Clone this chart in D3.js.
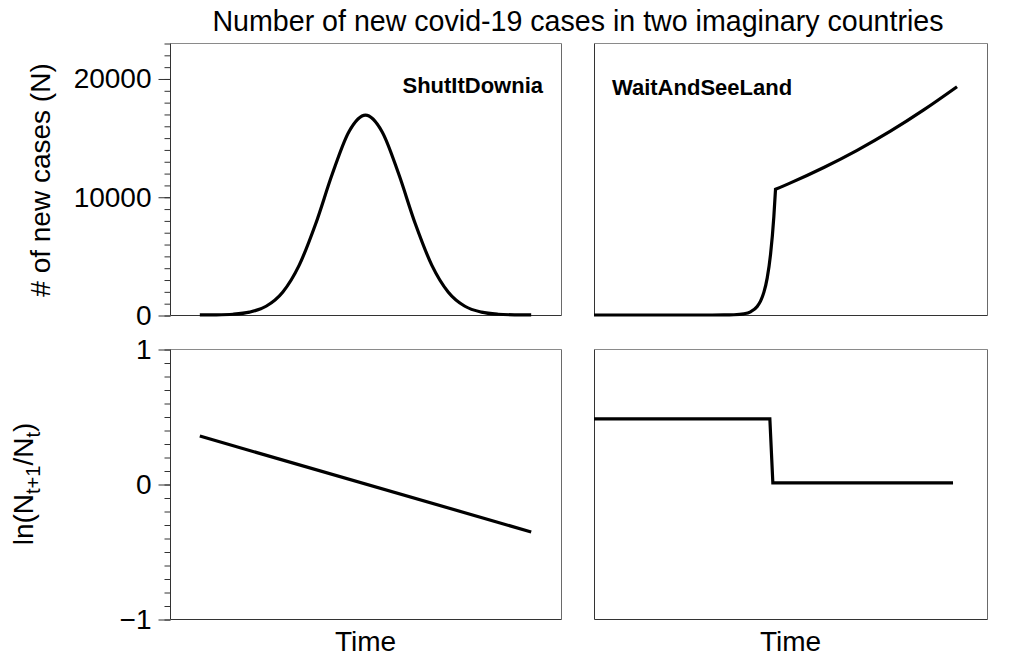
<!DOCTYPE html>
<html><head><meta charset="utf-8">
<script src="https://cdn.jsdelivr.net/npm/d3@7"></script>
<style>body{margin:0;background:#fff} svg{display:block} text{font-family:"Liberation Sans",Arial,Helvetica,sans-serif;fill:#000}</style>
</head><body><svg id="c" width="1024" height="669"></svg>
<script>
// ---- data ----
const chartTitle = "Number of new covid-19 cases in two imaginary countries";
const countries = ["ShutItDownia", "WaitAndSeeLand"];
const shutTime  = [0,5,10,15,20,25,30,35,40,45,50,55,60,65,70,75,80,85,90,95,100];
const shutCases = [3,15,65,240,740,1930,4220,7740,11940,15500,16900,15500,11940,7740,4220,1930,740,240,65,15,3];
const shutRateTime = [0, 100];
const shutRate     = [0.355, -0.355];
const waitTimeRise  = [-9,0,10,20,25,30,33,36,38,40,41,42,43,44,45,45.5];
const waitCasesRise = [0,0,0,0,0.5,5,23,100,270,720,1170,1910,3120,5100,8320,10630];
const waitTimeSlow  = [45.5,50,60,70,80,90,100];
const waitCasesSlow = [10630,11170,12470,13920,15540,17340,19300];
const waitRateTime = [-9, 43.8, 44.7, 98.8];
const waitRate     = [0.483, 0.483, 0.008, 0.008];
const casesTicks = [0, 10000, 20000];
const rateTicks  = [-1, 0, 1];
const yLabelCases = "# of new cases (N)";
const xLabel = "Time";

// ---- layout ----
const svg = d3.select("#c");
const cols = [{x0:170, x1:561}, {x0:594, x1:987}];
const rows = [{y0:43, y1:315}, {y0:349, y1:619}];
const xScales = cols.map(c => d3.scaleLinear().domain([-9, 109]).range([c.x0, c.x1]));
const yCases = d3.scaleLinear().domain([0, 23000]).range([rows[0].y1, rows[0].y0]);
const yRate  = d3.scaleLinear().domain([-1, 1]).range([rows[1].y1, rows[1].y0]);

// frames
function frame(c, r) {
  const g = svg.append("g");
  const L = c.x0 + 0.5, R = c.x1 + 0.5, T = r.y0 + 0.5, B = r.y1 + 0.5;
  g.append("line").attr("x1",L).attr("x2",R).attr("y1",T).attr("y2",T).attr("stroke","#8a8a8a");
  g.append("line").attr("x1",R).attr("x2",R).attr("y1",T).attr("y2",B).attr("stroke","#6a6a6a");
  g.append("line").attr("x1",L).attr("x2",R).attr("y1",B).attr("y2",B).attr("stroke","#333");
  g.append("line").attr("x1",L).attr("x2",L).attr("y1",T).attr("y2",B).attr("stroke","#333");
}
rows.forEach(r => cols.forEach(c => frame(c, r)));

// y axes (left column only)
function yAxis(scale, major, minor) {
  const gMinor = svg.append("g").attr("transform", `translate(${cols[0].x0 + 0.5},0.5)`)
    .call(d3.axisLeft(scale).tickValues(minor).tickSize(6).tickFormat(""));
  gMinor.select(".domain").remove();
  gMinor.selectAll("line").attr("stroke", "#333");
  const gMajor = svg.append("g").attr("transform", `translate(${cols[0].x0 + 0.5},0.5)`)
    .call(d3.axisLeft(scale).tickValues(major).tickSize(12).tickPadding(7).tickFormat(d3.format("d")));
  gMajor.select(".domain").remove();
  gMajor.selectAll("line").attr("stroke", "#333");
  gMajor.selectAll("text").style("font-size", "28px").attr("fill", "#000");
}
yAxis(yCases, casesTicks, d3.range(0, 23001, 1000));
yAxis(yRate, rateTicks, d3.range(-10, 11).map(d => d / 10));

// lines
const mk = (xs, ys) => xs.map((t, i) => ({t, v: ys[i]}));
const lineStyle = p => p.attr("fill","none").attr("stroke","#000").attr("stroke-width",3.2).attr("stroke-linejoin","miter");

const lShut = d3.line().x(d => xScales[0](d.t)).y(d => yCases(d.v)).curve(d3.curveMonotoneX);
svg.append("path").attr("d", lShut(mk(shutTime, shutCases))).call(lineStyle);

const lShutR = d3.line().x(d => xScales[0](d.t)).y(d => yRate(d.v));
svg.append("path").attr("d", lShutR(mk(shutRateTime, shutRate))).call(lineStyle);

const lWait = d3.line().x(d => xScales[1](d.t)).y(d => yCases(d.v)).curve(d3.curveMonotoneX);
const dWait = lWait(mk(waitTimeRise, waitCasesRise)) + lWait(mk(waitTimeSlow, waitCasesSlow)).replace(/^M/, "L");
svg.append("path").attr("d", dWait).call(lineStyle);

const lWaitR = d3.line().x(d => xScales[1](d.t)).y(d => yRate(d.v));
svg.append("path").attr("d", lWaitR(mk(waitRateTime, waitRate))).call(lineStyle);

// texts
svg.append("text").attr("x", 578).attr("y", 31).attr("text-anchor", "middle")
  .style("font-size", "28.6px").text(chartTitle);
svg.append("text").attr("x", 543).attr("y", 93).attr("text-anchor", "end")
  .style("font-size", "22px").style("font-weight", "bold").text(countries[0]);
svg.append("text").attr("x", 612).attr("y", 95).attr("text-anchor", "start")
  .style("font-size", "22px").style("font-weight", "bold").text(countries[1]);

cols.forEach(c => svg.append("text").attr("x", (c.x0 + c.x1) / 2).attr("y", 651)
  .attr("text-anchor", "middle").style("font-size", "28px").text(xLabel));

svg.append("text").attr("transform", "translate(50,180) rotate(-90)").attr("text-anchor", "middle")
  .style("font-size", "28px").text(yLabelCases);

const rl = svg.append("text").attr("transform", "translate(33,484) rotate(-90)").attr("text-anchor", "middle")
  .style("font-size", "28px");
rl.append("tspan").text("ln(N");
rl.append("tspan").attr("dy", 7).style("font-size", "20px").text("t+1");
rl.append("tspan").attr("dy", -7).text("/N");
rl.append("tspan").attr("dy", 7).style("font-size", "20px").text("t");
rl.append("tspan").attr("dy", -7).text(")");
</script></body></html>
